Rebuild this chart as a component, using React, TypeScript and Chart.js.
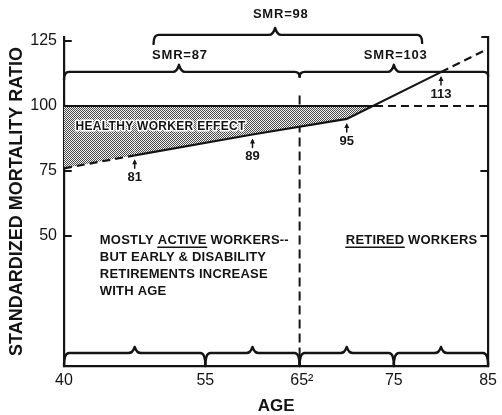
import React, { useEffect, useRef } from 'react';
import { Chart, registerables } from 'chart.js';

Chart.register(...registerables);

const FONT = '"Liberation Sans", Arial, Helvetica, sans-serif';
const INK = '#141414';

// Observed SMR by age (solid/dashed curve)
const curveAges = [40, 47.5, 60, 70, 80, 85];
const curveSmr = [76, 81, 89, 95, 113, 122];

// Labelled values on the curve
const labelAges = [47.5, 60, 70, 80];
const labelSmr = [81, 89, 95, 113];
const labelTexts = ['81', '89', '95', '113'];

// Reference SMR = 100 line (solid until it meets the curve, then dashed)
const refAges = [40, 73, 85];
const refSmr = [100, 100, 100];

// Retirement age marker
const retireAges = [65, 65];
const retireSmr = [104, 0];

// Axis ticks
const xTickValues = [40, 55, 65, 75, 85];
const xTickLabels = ['40', '55', ' 65\u00B2', '75', '85'];
const yTickValues = [50, 75, 100, 125];
const yTickLabels = ['50', '75', '100', '125'];

// Age groups (bottom braces)
const ageGroupEdges = [40, 55, 65, 75, 85];
const ageGroupMids = [47.5, 60, 70, 80];

// SMR braces by period
const smrLabels = ['SMR=87', 'SMR=103'];
const smrFrom = [40, 65];
const smrTo = [65, 85];
const smrPeak = [52.2, 75];
const smrLabelAge = [52.3, 75.2];

const overallLabel = 'SMR=98';
const overallFrom = 49.5;
const overallTo = 78;
const overallPeak = 62.4;
const overallLabelAge = 63;

function makePattern(): CanvasPattern | string {
  const c = document.createElement('canvas');
  c.width = 2;
  c.height = 2;
  const g = c.getContext('2d');
  if (!g) return '#999';
  g.fillStyle = '#f2f2f2';
  g.fillRect(0, 0, 2, 2);
  g.fillStyle = '#4a4a4a';
  g.fillRect(0, 0, 1, 1);
  g.fillRect(1, 1, 1, 1);
  const p = g.createPattern(c, 'repeat');
  return p || '#999';
}

function brace(
  ctx: CanvasRenderingContext2D,
  x0: number,
  x1: number,
  xp: number,
  yl: number,
  peakH: number,
  dropL: number,
  dropR: number
) {
  const r = 5;
  ctx.beginPath();
  ctx.moveTo(x0, yl + dropL);
  ctx.quadraticCurveTo(x0, yl, x0 + r, yl);
  ctx.lineTo(xp - 6, yl);
  ctx.quadraticCurveTo(xp - 2, yl, xp, yl - peakH);
  ctx.quadraticCurveTo(xp + 2, yl, xp + 6, yl);
  ctx.lineTo(x1 - r, yl);
  ctx.quadraticCurveTo(x1, yl, x1, yl + dropR);
  ctx.stroke();
}

const annotationPlugin = {
  id: 'annotations',
  afterDraw(chart: any) {
    const ctx: CanvasRenderingContext2D = chart.ctx;
    const xs = chart.scales.x;
    const ys = chart.scales.y;
    const area = chart.chartArea;
    const X = (v: number) => xs.getPixelForValue(v);
    const Y = (v: number) => ys.getPixelForValue(v);
    ctx.save();
    ctx.strokeStyle = INK;
    ctx.fillStyle = INK;
    ctx.lineCap = 'round';
    ctx.lineJoin = 'round';

    // inward ticks on both y borders
    ctx.lineWidth = 2;
    ctx.beginPath();
    for (const v of yTickValues) {
      const py = Y(v);
      ctx.moveTo(area.left, py);
      ctx.lineTo(area.left + 7, py);
      if (v !== 125) {
        ctx.moveTo(area.right, py);
        ctx.lineTo(area.right - 7, py);
      }
    }
    ctx.moveTo(area.right, area.top);
    ctx.lineTo(area.right - 6, area.top);
    ctx.stroke();

    // braces
    ctx.lineWidth = 2.4;
    brace(ctx, X(overallFrom), X(overallTo), X(overallPeak), Y(127.3), 7, 9, 8);
    for (let i = 0; i < smrLabels.length; i++) {
      const dl = i === 0 ? 8 : 5;
      const dr = i === 0 ? 5 : 4;
      brace(ctx, X(smrFrom[i]), X(smrTo[i]), X(smrPeak[i]), Y(113.1), 7, dl, dr);
    }
    for (let i = 0; i < ageGroupMids.length; i++) {
      const yl = Y(5);
      brace(ctx, X(ageGroupEdges[i]), X(ageGroupEdges[i + 1]), X(ageGroupMids[i]), yl, 6, Y(0) - yl, Y(0) - yl);
    }

    // brace labels
    (ctx as any).letterSpacing = '0.8px';
    ctx.font = `bold 13px ${FONT}`;
    ctx.textAlign = 'center';
    ctx.textBaseline = 'middle';
    ctx.fillText(overallLabel, X(overallLabelAge), Y(135));
    for (let i = 0; i < smrLabels.length; i++) {
      ctx.fillText(smrLabels[i], X(smrLabelAge[i]), Y(119.6));
    }

    // point labels with arrows
    (ctx as any).letterSpacing = '0px';
    ctx.font = `bold 13px ${FONT}`;
    ctx.lineWidth = 1.5;
    for (let i = 0; i < labelAges.length; i++) {
      const px = X(labelAges[i]);
      const py = Y(labelSmr[i]);
      ctx.beginPath();
      ctx.moveTo(px, py + 6);
      ctx.lineTo(px, py + 13);
      ctx.stroke();
      ctx.beginPath();
      ctx.moveTo(px, py + 4);
      ctx.lineTo(px - 2.5, py + 9);
      ctx.lineTo(px + 2.5, py + 9);
      ctx.closePath();
      ctx.fill();
      ctx.fillText(labelTexts[i], px, py + 22);
    }

    // healthy worker effect label
    ctx.font = `bold 12px ${FONT}`;
    (ctx as any).letterSpacing = '0.3px';
    ctx.textAlign = 'center';
    ctx.strokeStyle = '#ffffff';
    ctx.lineWidth = 3;
    ctx.strokeText('HEALTHY WORKER EFFECT', X(50.25), Y(91.9));
    ctx.fillText('HEALTHY WORKER EFFECT', X(50.25), Y(91.9));
    ctx.strokeStyle = INK;

    // text blocks
    (ctx as any).letterSpacing = '0.2px';
    ctx.font = `bold 13px ${FONT}`;
    ctx.textAlign = 'left';
    ctx.textBaseline = 'alphabetic';
    const lx = X(43.8);
    const ly = Y(48.5) + 4.5;
    const lines = ['MOSTLY ACTIVE WORKERS--', 'BUT EARLY & DISABILITY', 'RETIREMENTS INCREASE', 'WITH AGE'];
    lines.forEach((t, i) => ctx.fillText(t, lx, ly + i * 17));
    ctx.lineWidth = 1.5;
    const pre = ctx.measureText('MOSTLY ').width;
    const w1 = ctx.measureText('ACTIVE').width;
    ctx.beginPath();
    ctx.moveTo(lx + pre, ly + 3);
    ctx.lineTo(lx + pre + w1, ly + 3);
    ctx.stroke();

    const rx = X(69.9);
    ctx.fillText('RETIRED WORKERS', rx, ly);
    const w2 = ctx.measureText('RETIRED').width;
    ctx.beginPath();
    ctx.moveTo(rx, ly + 3);
    ctx.lineTo(rx + w2, ly + 3);
    ctx.stroke();

    ctx.restore();
  },
};

export default function App() {
  const ref = useRef<HTMLCanvasElement | null>(null);

  useEffect(() => {
    if (!ref.current) return;
    const pattern = makePattern();
    const chart = new Chart(ref.current, {
      type: 'line',
      data: {
        datasets: [
          {
            label: 'SMR',
            data: curveAges.map((a, i) => ({ x: a, y: curveSmr[i] })),
            borderColor: INK,
            borderWidth: 2.2,
            pointRadius: 0,
            fill: false,
            segment: {
              borderDash: (c: any) => (c.p0DataIndex === 0 || c.p0DataIndex === 4 ? [8, 5] : undefined),
            },
          },
          {
            label: 'Reference',
            data: refAges.map((a, i) => ({ x: a, y: refSmr[i] })),
            borderColor: INK,
            borderWidth: 2,
            pointRadius: 0,
            fill: { target: 0, above: pattern as any, below: 'rgba(0,0,0,0)' },
            segment: {
              borderDash: (c: any) => (c.p0DataIndex >= 1 ? [8, 5] : undefined),
            },
          },
          {
            label: 'Retirement',
            data: retireAges.map((a, i) => ({ x: a, y: retireSmr[i] })),
            borderColor: INK,
            borderWidth: 2,
            borderDash: [9, 5],
            pointRadius: 0,
            fill: false,
          },
        ],
      },
      options: {
        responsive: false,
        animation: false,
        layout: { padding: { top: 37, left: 0, right: 0, bottom: 0 } },
        plugins: {
          legend: { display: false },
          tooltip: { enabled: false },
        },
        scales: {
          x: {
            type: 'linear',
            min: 40,
            max: 85,
            afterBuildTicks: (s: any) => {
              s.ticks = xTickValues.map((v) => ({ value: v }));
            },
            afterFit: (s: any) => {
              s.height = 49;
            },
            grid: { display: false, drawTicks: false },
            border: { display: true, color: INK, width: 2.2 },
            ticks: {
              color: INK,
              padding: 5,
              maxRotation: 0,
              autoSkip: false,
              font: { family: FONT, size: 16 },
              callback: (v: any) => {
                const i = xTickValues.indexOf(Number(v));
                return i >= 0 ? xTickLabels[i] : '';
              },
            },
            title: {
              display: true,
              text: 'AGE',
              color: INK,
              font: { family: FONT, size: 17, weight: 'bold', lineHeight: 1 },
              padding: { top: 0, bottom: 0 },
            },
          },
          y: {
            type: 'linear',
            position: 'left',
            min: 0,
            max: 126.5,
            afterBuildTicks: (s: any) => {
              s.ticks = yTickValues.map((v) => ({ value: v }));
            },
            afterFit: (s: any) => {
              s.width = 64;
            },
            grid: { display: false, drawTicks: false },
            border: { display: true, color: INK, width: 2.2 },
            ticks: {
              color: INK,
              padding: 7,
              autoSkip: false,
              font: { family: FONT, size: 16 },
              callback: (v: any) => {
                const i = yTickValues.indexOf(Number(v));
                return i >= 0 ? yTickLabels[i] : '';
              },
            },
            title: {
              display: true,
              text: 'STANDARDIZED MORTALITY RATIO',
              color: INK,
              font: { family: FONT, size: 18, weight: 'bold', lineHeight: 1 },
              padding: { top: 8, bottom: 0 },
            },
          },
          y2: {
            type: 'linear',
            position: 'right',
            min: 0,
            max: 126.5,
            afterFit: (s: any) => {
              s.width = 10;
            },
            grid: { display: false, drawTicks: false },
            border: { display: true, color: INK, width: 2.2 },
            ticks: { display: false },
          },
        },
      },
      plugins: [annotationPlugin],
    } as any);
    return () => chart.destroy();
  }, []);

  return (
    <div style={{ position: 'fixed', left: 0, top: 0, width: 502, height: 415, background: '#fff' }}>
      <canvas ref={ref} width={502} height={415} style={{ display: 'block' }} />
    </div>
  );
}
